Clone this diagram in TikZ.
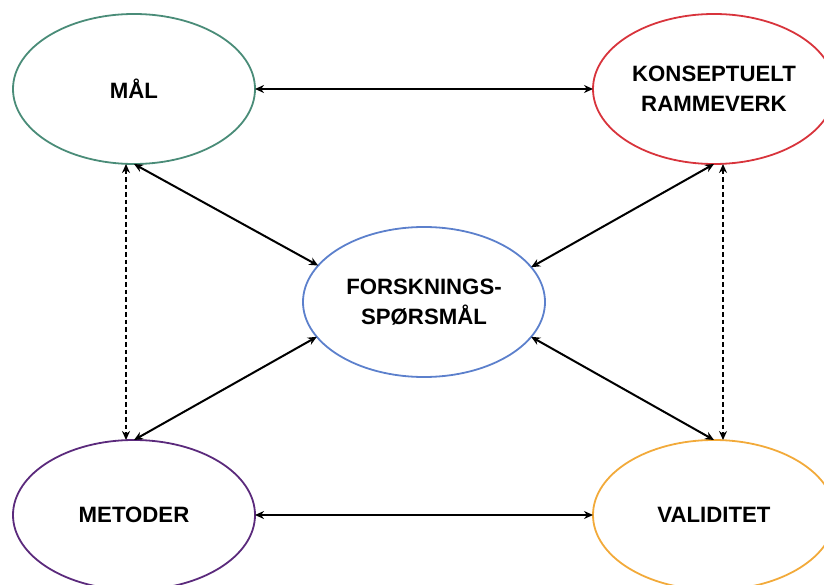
\documentclass[tikz,border=0pt]{standalone}
\usepackage{fontspec}
\setmainfont{Liberation Sans}
\usetikzlibrary{shapes.geometric,arrows.meta}
\definecolor{cgreen}{HTML}{4A8C78}
\definecolor{cred}{HTML}{D8343C}
\definecolor{cblue}{HTML}{5C80CC}
\definecolor{cpurple}{HTML}{5B2A7C}
\definecolor{corange}{HTML}{F2AA3A}
\tikzset{
  oval/.style={ellipse, draw, line width=1.8pt, minimum width=242pt, minimum height=150pt,
    inner sep=0pt, outer sep=0pt, align=center,
    font=\fontsize{22.2}{30}\selectfont\bfseries},
  link/.style={line width=2pt, {Stealth[length=9pt,width=8pt]}-{Stealth[length=9pt,width=8pt]}},
  dlink/.style={link, dash pattern=on 4.5pt off 3pt}
}
\begin{document}
\begin{tikzpicture}[x=1pt,y=-1pt]
\useasboundingbox (0,0) rectangle (824,585);
\clip (0,0) rectangle (824,585);
\node[oval, draw=cgreen] (mal) at (134,89) {MÅL};
\node[oval, draw=cred] (kon) at (714,89) {KONSEPTUELT\\RAMMEVERK};
\node[oval, draw=cblue] (fsp) at (424,302) {FORSKNINGS-\\SPØRSMÅL};
\node[oval, draw=cpurple] (met) at (134,515) {METODER};
\node[oval, draw=corange] (val) at (714,515) {VALIDITET};
\draw[link] (mal.east) -- (kon.west);
\draw[link] (met.east) -- (val.west);
\draw[link] (mal.south) -- (fsp.161);
\draw[link] (met.north) -- (fsp.198);
\draw[link] (kon.south) -- (fsp.18);
\draw[link] (val.north) -- (fsp.342);
\draw[dlink] ([xshift=-8pt]mal.south) -- ([xshift=-8pt]met.north);
\draw[dlink] ([xshift=9pt]kon.south) -- ([xshift=9pt]val.north);
\end{tikzpicture}
\end{document}
